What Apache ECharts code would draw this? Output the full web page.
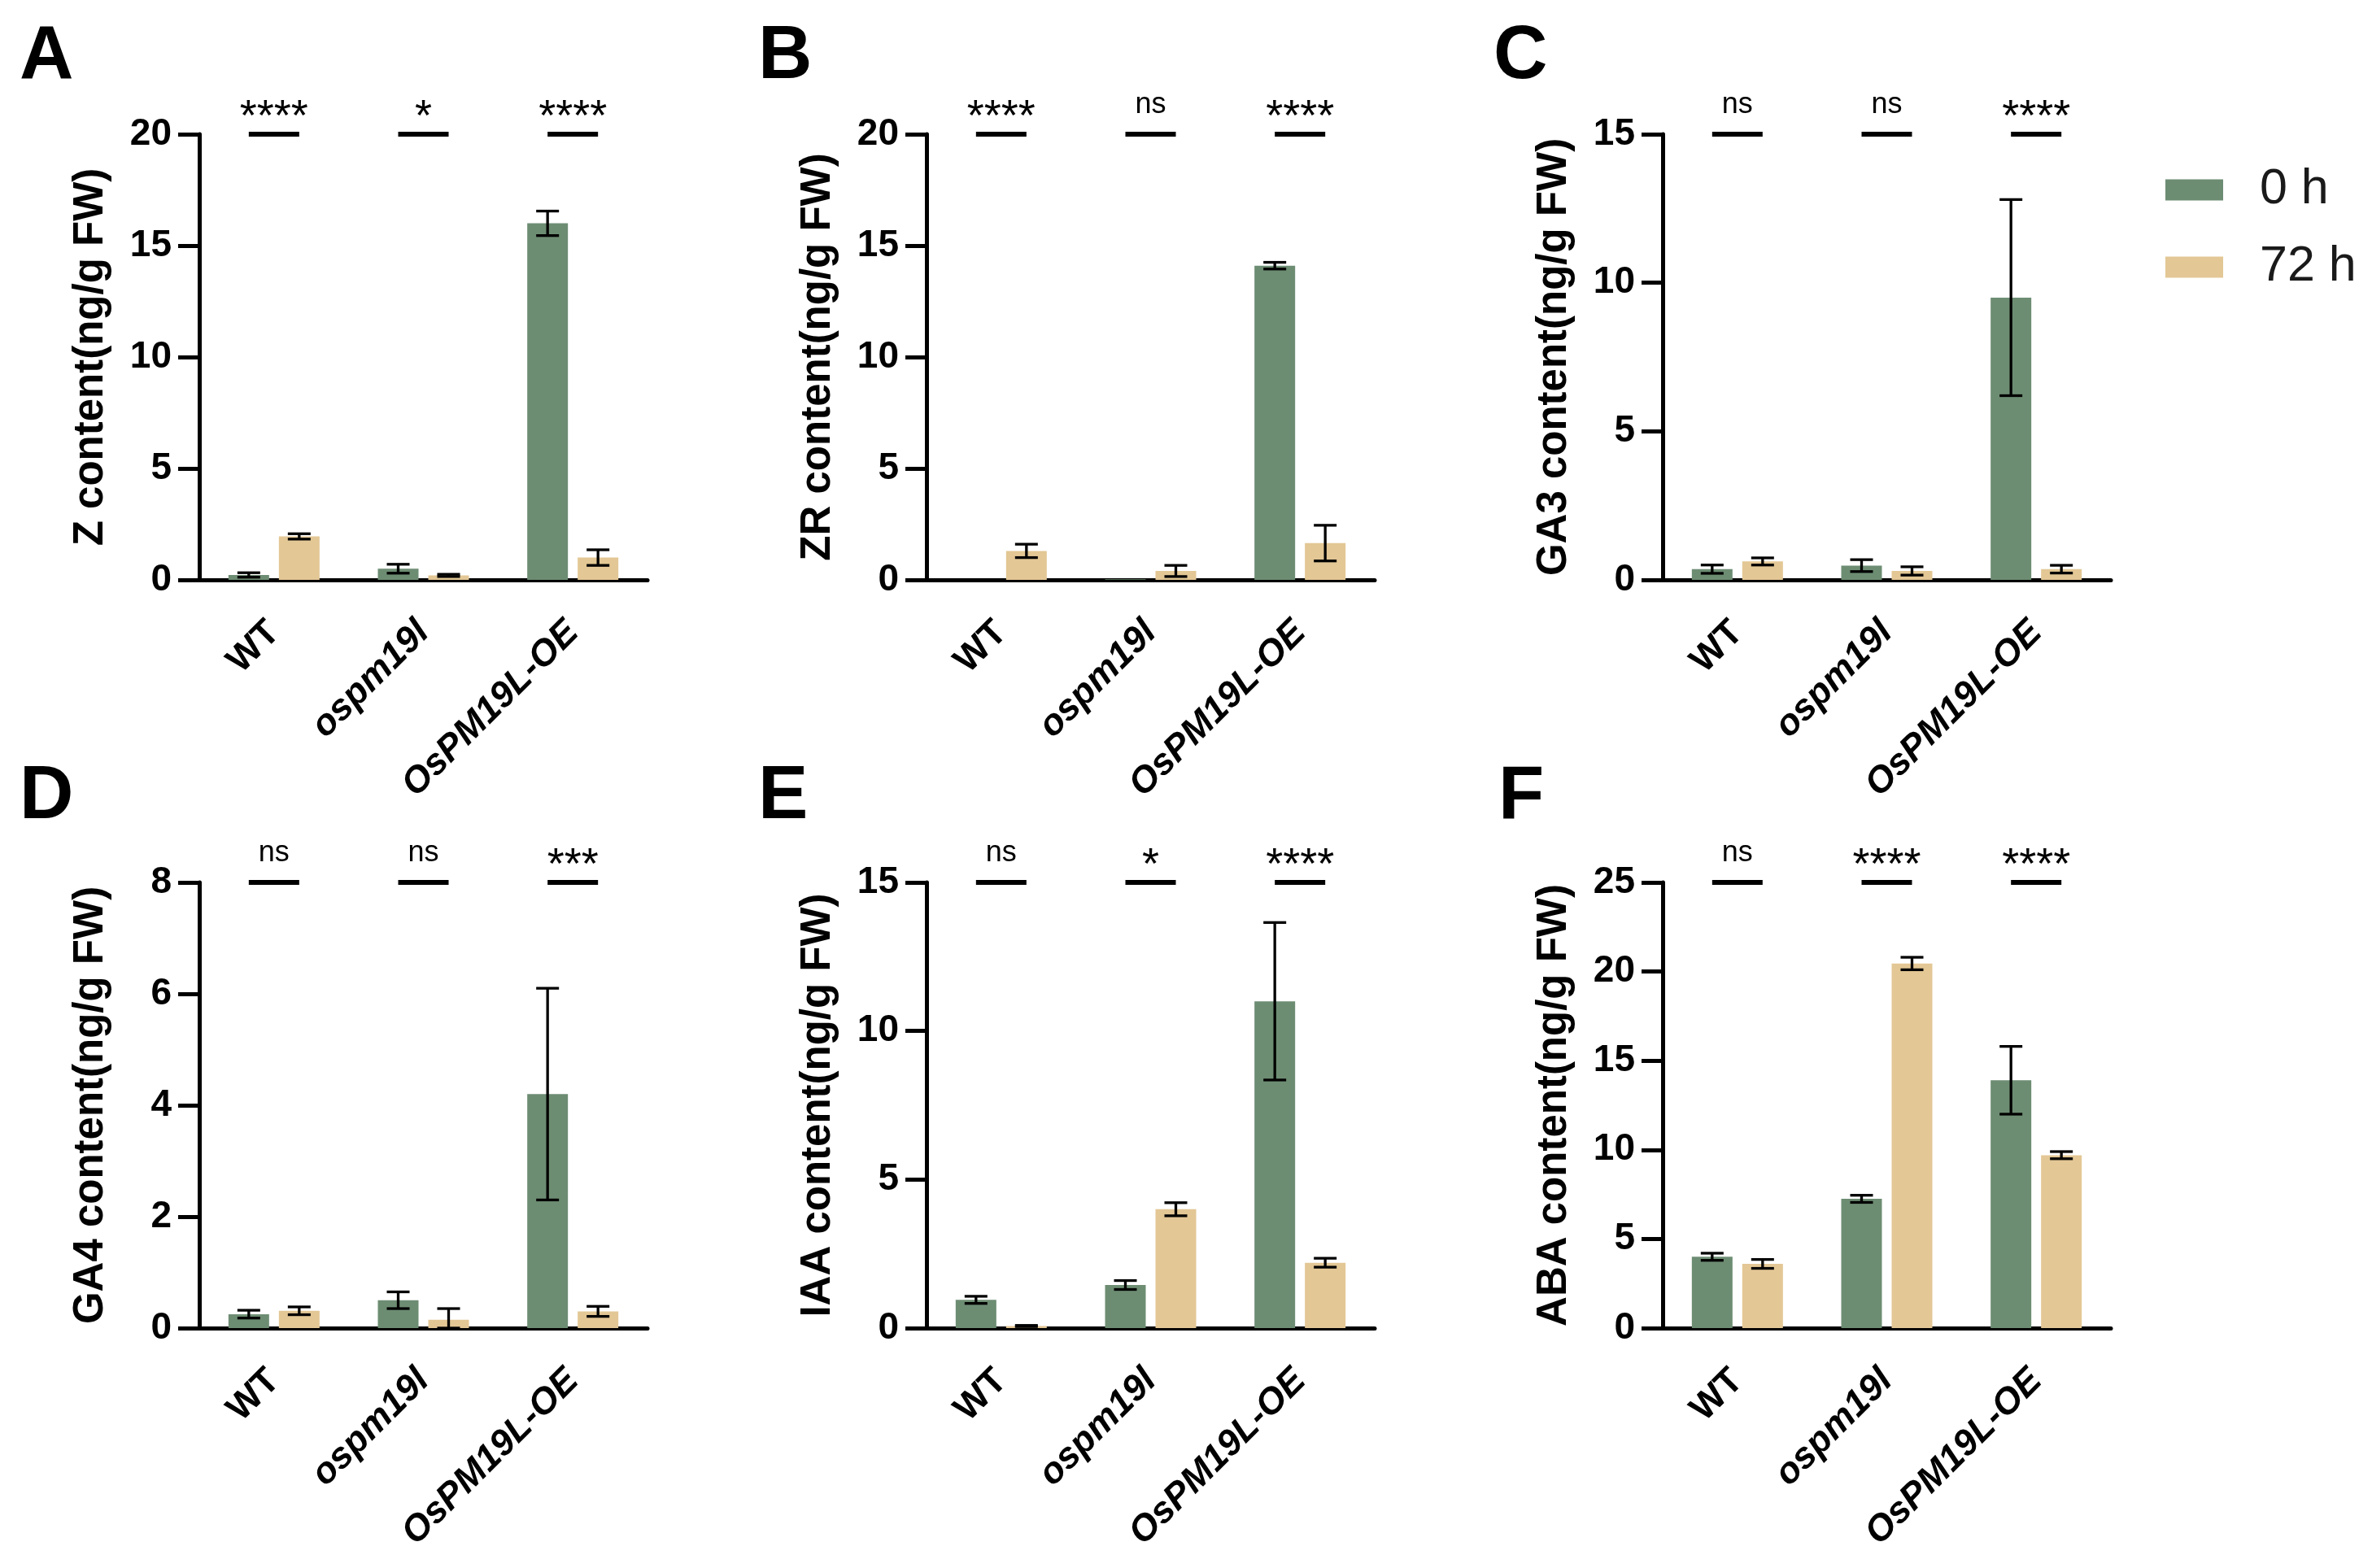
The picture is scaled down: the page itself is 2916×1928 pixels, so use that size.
<!DOCTYPE html>
<html>
<head>
<meta charset="utf-8">
<script src="https://cdn.jsdelivr.net/npm/echarts/dist/echarts.min.js"></script>
<style>
  html, body { margin: 0; padding: 0; background: #fff; }
  #chart { width: 2916px; height: 1928px; }
</style>
</head>
<body>
<div id="chart"></div>
<script>
// 基因型 / 时间点
const genotypes = ['WT', 'ospm19l', 'OsPM19L-OE'];
const timeNames = ['0 h', '72 h'];

// 各面板
const letters = ['A', 'B', 'C', 'D', 'E', 'F'];
const yNames = ['Z content(ng/g FW)', 'ZR content(ng/g FW)', 'GA3 content(ng/g FW)',
  'GA4 content(ng/g FW)', 'IAA content(ng/g FW)', 'ABA content(ng/g FW)'];
const yMax = [20, 20, 15, 8, 15, 25];
const yStep = [5, 5, 5, 2, 5, 5];

// 均值 / 误差  (WT, ospm19l, OsPM19L-OE)
const z0 = [0.22, 0.5, 16.0],    z0Sd = [0.1, 0.2, 0.55];
const z72 = [1.95, 0.2, 1.0],    z72Sd = [0.12, 0.05, 0.35];
const zr0 = [0, 0.03, 14.1],     zr0Sd = [0, 0, 0.15];
const zr72 = [1.3, 0.4, 1.65],   zr72Sd = [0.3, 0.25, 0.8];
const ga3_0 = [0.36, 0.48, 9.5], ga3_0Sd = [0.14, 0.2, 3.3];
const ga3_72 = [0.62, 0.3, 0.36], ga3_72Sd = [0.12, 0.14, 0.13];
const ga4_0 = [0.25, 0.5, 4.2],  ga4_0Sd = [0.07, 0.15, 1.9];
const ga4_72 = [0.31, 0.15, 0.3], ga4_72Sd = [0.07, 0.2, 0.09];
const iaa0 = [0.95, 1.45, 11.0], iaa0Sd = [0.12, 0.15, 2.65];
const iaa72 = [0.07, 4.0, 2.2],  iaa72Sd = [0.02, 0.22, 0.15];
const aba0 = [4.0, 7.25, 13.9],  aba0Sd = [0.2, 0.2, 1.9];
const aba72 = [3.6, 20.45, 9.7], aba72Sd = [0.25, 0.35, 0.2];

// 显著性标记
const sigA = ['****', '*', '****'];
const sigB = ['****', 'ns', '****'];
const sigC = ['ns', 'ns', '****'];
const sigD = ['ns', 'ns', '***'];
const sigE = ['ns', '*', '****'];
const sigF = ['ns', '****', '****'];

const mean0 = [z0, zr0, ga3_0, ga4_0, iaa0, aba0];
const sd0 = [z0Sd, zr0Sd, ga3_0Sd, ga4_0Sd, iaa0Sd, aba0Sd];
const mean72 = [z72, zr72, ga3_72, ga4_72, iaa72, aba72];
const sd72 = [z72Sd, zr72Sd, ga3_72Sd, ga4_72Sd, iaa72Sd, aba72Sd];
const sigs = [sigA, sigB, sigC, sigD, sigE, sigF];

const GREEN = '#6D8D73', TAN = '#E3C795';
const FONT = 'Liberation Sans, Arial, sans-serif';
const BAR_W = 50, BAR_GAP = 12;
const OFF = (BAR_W + BAR_GAP) / 2;

const lefts = [245, 1139, 2044];
const tops = [165, 1085];
const letterPos = [[24, 25], [932, 25], [1836, 25], [24, 935], [932, 935], [1842, 935]];

let myChart = echarts.init(document.getElementById('chart'));

let grid = [], xAxis = [], yAxis = [], series = [], graphic = [];

for (let p = 0; p < 6; p++) {
  let row = Math.floor(p / 3), col = p % 3;
  grid.push({ left: lefts[col], top: tops[row], width: 551, height: 548 });

  xAxis.push({
    type: 'category', gridIndex: p, data: genotypes,
    axisLine: { lineStyle: { color: '#000', width: 5 } },
    axisTick: { alignWithLabel: true, length: 27, lineStyle: { color: '#000', width: 5 } },
    axisLabel: {
      interval: 0, rotate: 45, margin: 58,
      formatter: (v, i) => i === 0 ? '{n|' + v + '}' : '{i|' + v + '}',
      rich: {
        n: { fontSize: 45, fontWeight: 'bold', fontFamily: FONT, color: '#000' },
        i: { fontSize: 45, fontWeight: 'bold', fontStyle: 'italic', fontFamily: FONT, color: '#000' }
      }
    },
    splitLine: { show: false }
  });

  yAxis.push({
    type: 'value', gridIndex: p, min: 0, max: yMax[p], interval: yStep[p],
    name: yNames[p], nameLocation: 'middle', nameGap: 108,
    nameTextStyle: { fontSize: 51, fontWeight: 'bold', fontFamily: FONT, color: '#000' },
    axisLine: { show: true, lineStyle: { color: '#000', width: 5 } },
    axisTick: { show: true, length: 26, lineStyle: { color: '#000', width: 5 } },
    axisLabel: { fontSize: 46, fontWeight: 'bold', fontFamily: FONT, color: '#000', margin: 34 },
    splitLine: { show: false }
  });

  // 柱状
  [mean0[p], mean72[p]].forEach((m, t) => {
    series.push({
      type: 'bar', name: timeNames[t], xAxisIndex: p, yAxisIndex: p,
      data: m, barWidth: BAR_W, barGap: (BAR_GAP / BAR_W * 100) + '%',
      itemStyle: { color: t === 0 ? GREEN : TAN },
      silent: true, animation: false
    });
  });

  // 误差线
  [[mean0[p], sd0[p]], [mean72[p], sd72[p]]].forEach((ms, t) => {
    series.push({
      type: 'custom', xAxisIndex: p, yAxisIndex: p, z: 5, clip: false,
      silent: true, animation: false,
      encode: { x: 0, y: 1 },
      data: ms[0].map((m, k) => [k, m, ms[1][k]]),
      renderItem: (params, api) => {
        let sd = api.value(2);
        if (!sd) return null;
        let k = api.value(0), m = api.value(1);
        let dx = t === 0 ? -OFF : OFF;
        let hi = api.coord([k, m + sd]);
        let lo = api.coord([k, Math.max(0, m - sd)]);
        let x = hi[0] + dx, cap = 14;
        let st = { stroke: '#000', lineWidth: 3.3 };
        return {
          type: 'group', children: [
            { type: 'line', shape: { x1: x, y1: hi[1], x2: x, y2: lo[1] }, style: st },
            { type: 'line', shape: { x1: x - cap, y1: hi[1], x2: x + cap, y2: hi[1] }, style: st },
            { type: 'line', shape: { x1: x - cap, y1: lo[1], x2: x + cap, y2: lo[1] }, style: st }
          ]
        };
      }
    });
  });

  // 显著性
  let sig = sigs[p];
  series.push({
    type: 'custom', xAxisIndex: p, yAxisIndex: p, z: 6, clip: false,
    silent: true, animation: false,
    encode: { x: 0, y: 1 },
    data: genotypes.map((g, k) => [k, yMax[p]]),
    renderItem: (params, api) => {
      let k = api.value(0);
      let c = api.coord([k, api.value(1)]);
      let s = sig[k];
      let isNs = s === 'ns';
      return {
        type: 'group', children: [
          { type: 'line', shape: { x1: c[0] - OFF, y1: c[1], x2: c[0] + OFF, y2: c[1] },
            style: { stroke: '#000', lineWidth: 6 } },
          { type: 'text', x: c[0], y: c[1] - (isNs ? 36 : 20),
            style: { text: s, align: 'center', verticalAlign: 'middle',
              font: (isNs ? '36px ' : '54px ') + FONT, fill: '#000' } }
        ]
      };
    }
  });

  graphic.push({
    type: 'text', left: letterPos[p][0], top: letterPos[p][1],
    style: { text: letters[p], font: 'bold 92px ' + FONT, fill: '#000' }
  });
}

let option = {
  backgroundColor: '#fff',
  animation: false,
  legend: {
    data: timeNames, orient: 'vertical', left: 2657, top: 198,
    itemWidth: 71, itemHeight: 26, itemGap: 34, icon: 'rect',
    textStyle: { fontSize: 61, fontFamily: FONT, color: '#1a1a1a', padding: [0, 0, 0, 40] },
    selectedMode: false
  },
  grid, xAxis, yAxis, series, graphic
};
myChart.setOption(option);
</script>
</body>
</html>
